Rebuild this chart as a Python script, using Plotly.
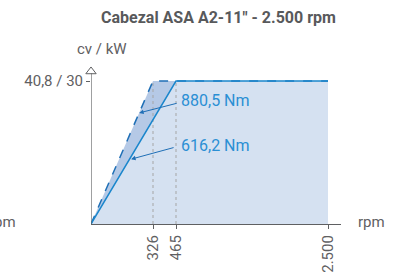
import numpy as np
import plotly.graph_objects as go

title = 'Cabezal ASA A2-11" - 2.500 rpm'
rpm_ticks = [326, 465, 2500]
rpm_tick_labels = ["326", "465", "2.500"]
power_kw = 30
power_label = "40,8 / 30"
rpm_max = 2500
# torque curves (power envelope)
dash_rpm = [0, 326, 2500]
dash_kw = [0, 30, 30]
solid_rpm = [0, 465, 2500]
solid_kw = [0, 30, 30]
torque_labels = ["880,5 Nm", "616,2 Nm"]
label_kw = [23.3, 13.6]

# stylised (non-linear) rpm axis of the original drawing
scale_rpm = [0, 326, 465, 2500]
scale_pos = [0, 62, 85, 237]


def X(r):
    return list(np.interp(r, scale_rpm, scale_pos))


FONT = "Liberation Sans Narrow, Roboto, Arial Narrow, sans-serif"
GRAY = "#5f6062"
LIGHT = "#d5e1f1"
DARK = "#b5c9e6"
BLUE = "#1a86cc"
DBLUE = "#1f6fb6"
TBLUE = "#2a8fd4"

fig = go.Figure()

fig.add_trace(go.Scatter(x=X(solid_rpm + [rpm_max]), y=solid_kw + [0], fill="toself",
                         fillcolor=LIGHT, line=dict(width=0), mode="lines", hoverinfo="skip"))
band_r = [0, 326, 465, 0]
band_k = [0, 30, 30, 0]
fig.add_trace(go.Scatter(x=X(band_r), y=band_k, fill="toself", fillcolor=DARK,
                         line=dict(width=0), mode="lines", hoverinfo="skip"))
for r in rpm_ticks[:2]:
    fig.add_trace(go.Scatter(x=X([r, r]), y=[0, power_kw], mode="lines",
                             line=dict(color="#a5a5a5", width=1, dash="dot"), hoverinfo="skip"))
fig.add_trace(go.Scatter(x=X(dash_rpm), y=dash_kw, mode="lines",
                         line=dict(color=DBLUE, width=1.5, dash="dash"), hoverinfo="skip"))
fig.add_trace(go.Scatter(x=X(solid_rpm), y=solid_kw, mode="lines",
                         line=dict(color=BLUE, width=1.5), hoverinfo="skip"))

fig.add_trace(go.Scatter(x=[0], y=[32.0], mode="markers", cliponaxis=False,
                         marker=dict(symbol="triangle-up", size=9, color="white",
                                     line=dict(color=GRAY, width=1)), hoverinfo="skip"))
fig.add_trace(go.Scatter(x=[X([rpm_max])[0] + 19], y=[0], mode="markers", cliponaxis=False,
                         marker=dict(symbol="triangle-right", size=9, color="white",
                                     line=dict(color=GRAY, width=1)), hoverinfo="skip"))
fig.add_shape(type="line", xref="x", yref="y", x0=0, x1=0, y0=0, y1=31.6,
              line=dict(color=GRAY, width=1.2), layer="above")

annotations = []
tips = [
    (X([dash_rpm[1] * label_kw[0] / power_kw])[0], label_kw[0], 39, -10, 100),
    (X([solid_rpm[1] * label_kw[1] / power_kw])[0], label_kw[1], 44, -12, 145),
]
for (tx, ty, ax, ay, ly), lab in zip(tips, torque_labels):
    annotations.append(dict(x=tx, y=ty, xref="x", yref="y", text="", showarrow=True,
                            ax=ax, ay=ay, arrowhead=2, arrowsize=0.9, arrowwidth=1,
                            arrowcolor=DBLUE, standoff=0))
    annotations.append(dict(x=(179 - 91) / 250, y=(224 - ly) / 162, xref="paper", yref="paper",
                            text=lab, showarrow=False, xanchor="left", yanchor="middle",
                            font=dict(family=FONT, size=16, color=TBLUE)))
annotations += [
    dict(x=(102 - 91) / 250, y=(224 - 49) / 162, xref="paper", yref="paper", text="cv / kW",
         showarrow=False, xanchor="center", yanchor="middle",
         font=dict(family=FONT, size=15, color=GRAY)),
    dict(x=(356 - 91) / 250, y=(224 - 222) / 162, xref="paper", yref="paper", text="rpm",
         showarrow=False, xanchor="left", yanchor="middle",
         font=dict(family=FONT, size=15, color=GRAY)),
    dict(x=(18 - 91) / 250, y=(224 - 222) / 162, xref="paper", yref="paper", text="rpm",
         showarrow=False, xanchor="right", yanchor="middle",
         font=dict(family=FONT, size=15, color=GRAY)),
    dict(x=(218 - 91) / 250, y=(224 - 17) / 162, xref="paper", yref="paper",
         text="<b>" + title + "</b>", showarrow=False, xanchor="center", yanchor="middle",
         font=dict(family=FONT, size=16, color="#58595b")),
]

fig.update_layout(
    width=398, height=274, margin=dict(l=91, r=57, t=62, b=50, autoexpand=False),
    paper_bgcolor="white", plot_bgcolor="white", showlegend=False,
    annotations=annotations,
    xaxis=dict(range=[0, 250], showgrid=False, zeroline=False, showline=True, linecolor=GRAY,
               linewidth=1.2, ticks="outside", ticklen=4, tickcolor=GRAY, tickvals=X(rpm_ticks),
               ticktext=rpm_tick_labels, tickangle=-90, layer="below traces", automargin=False,
               tickfont=dict(family=FONT, size=15, color=GRAY)),
    yaxis=dict(range=[0, (224 - 62) * 30 / 143], showgrid=False, zeroline=False, showline=False,
               ticks="outside", ticklen=4, tickcolor=GRAY, tickvals=[power_kw], automargin=False,
               ticktext=[power_label], tickfont=dict(family=FONT, size=15, color=GRAY)),
)

fig.write_html("out.html", config={"displayModeBar": False},
               post_script="document.body.style.margin='0';document.body.style.overflow='hidden';")
